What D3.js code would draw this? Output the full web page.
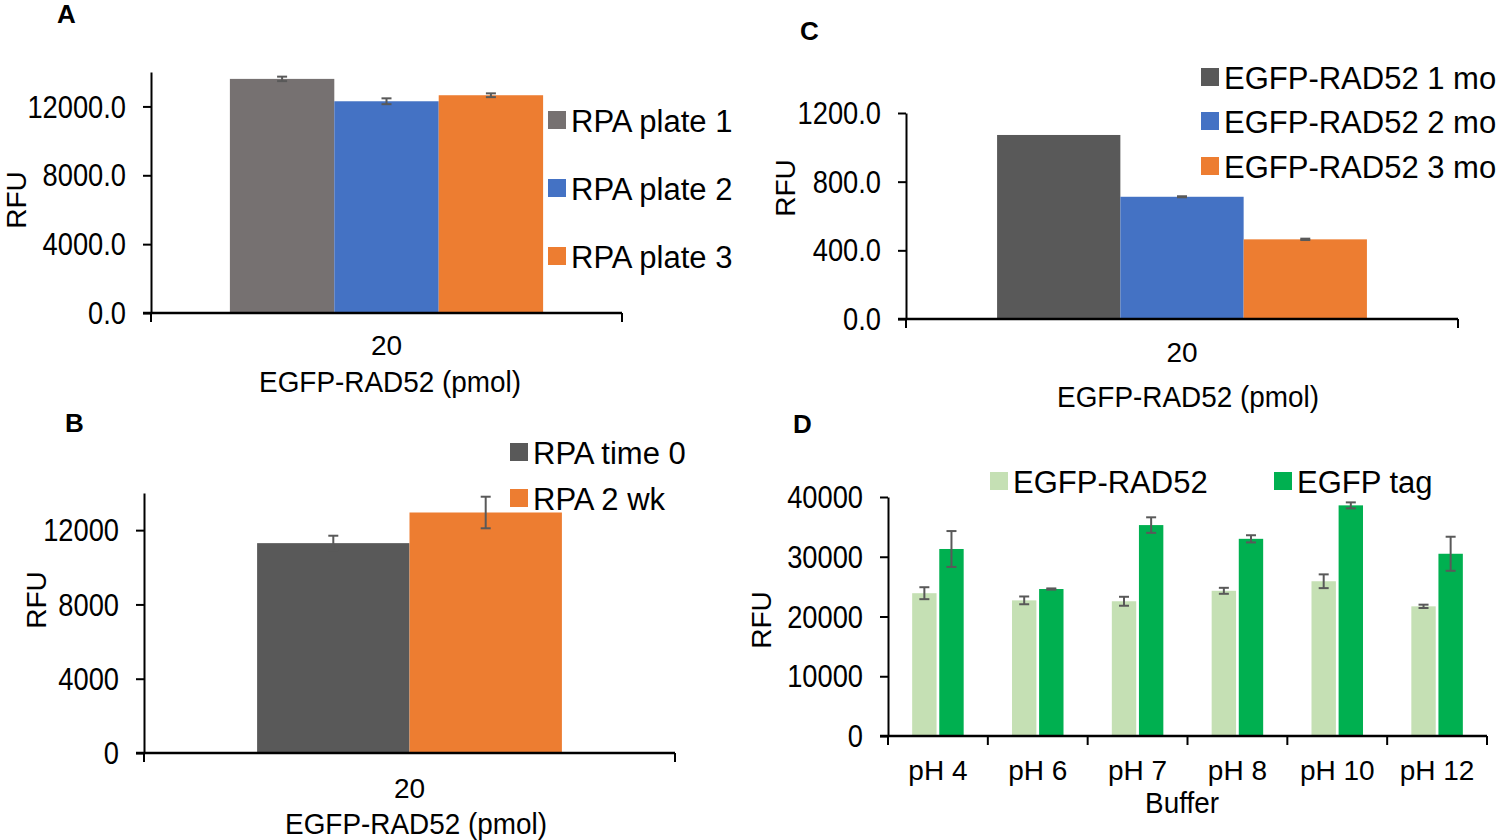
<!DOCTYPE html>
<html>
<head>
<meta charset="utf-8">
<script src="https://cdn.jsdelivr.net/npm/d3@7"></script>
<style>
  body { margin: 0; background: white; }
  svg { display: block; font-family: "Liberation Sans", Arial, sans-serif; }
</style>
</head>
<body>
<div id="chart"></div>
<script>
// Panel A - RPA plates
const panelACategories = ["20"];
const panelASeries = ["RPA plate 1", "RPA plate 2", "RPA plate 3"];
const panelAValues = [13600, 12300, 12650];
const panelAErrors = [130, 170, 110];
const panelATicks = [0, 4000, 8000, 12000];

// Panel B - RPA storage
const panelBCategories = ["20"];
const panelBSeries = ["RPA time 0", "RPA 2 wk"];
const panelBValues = [11300, 12950];
const panelBErrors = [400, 850];
const panelBTicks = [0, 4000, 8000, 12000];

// Panel C - EGFP-RAD52 storage
const panelCCategories = ["20"];
const panelCSeries = ["EGFP-RAD52 1 mo", "EGFP-RAD52 2 mo", "EGFP-RAD52 3 mo"];
const panelCValues = [1072, 712, 464];
const panelCErrors = [0, 3, 4];
const panelCTicks = [0, 400, 800, 1200];

// Panel D - buffer pH
const panelDCategories = ["pH 4", "pH 6", "pH 7", "pH 8", "pH 10", "pH 12"];
const panelDSeries = ["EGFP-RAD52", "EGFP tag"];
const panelDRad52 = [23900, 22700, 22550, 24300, 25900, 21700];
const panelDRad52Err = [1000, 650, 750, 500, 1150, 280];
const panelDTag = [31300, 24600, 35300, 33000, 38600, 30500];
const panelDTagErr = [3000, 100, 1300, 600, 500, 2850];
const panelDTicks = [0, 10000, 20000, 30000, 40000];

const errColor = "#595959";

const svg = d3.select("#chart")
  .append("svg")
  .attr("width", 1500)
  .attr("height", 840)
  .style("background-color", "white");

// text helper, sx squeezes glyphs horizontally
function label(g, x, y, s, o) {
  o = o || {};
  let t = "translate(" + x + "," + y + ")";
  if (o.rotate) t += " rotate(" + o.rotate + ")";
  if (o.sx) t += " scale(" + o.sx + ",1)";
  return g.append("text")
    .attr("transform", t)
    .attr("text-anchor", o.anchor || "start")
    .attr("dominant-baseline", o.baseline || "central")
    .style("font-size", (o.size || 28) + "px")
    .style("font-weight", o.weight || "normal")
    .attr("fill", "#000")
    .text(s);
}

function drawPanel(p) {
  const g = svg.append("g");

  const y = d3.scaleLinear().domain([0, p.yMax]).range([p.yBase, p.yTop]);
  const x = d3.scaleBand()
    .domain(p.cats)
    .range([p.x0, p.x1])
    .paddingInner(p.pad)
    .paddingOuter(p.pad / 2);
  const xs = d3.scaleBand()
    .domain(p.series.map((s) => s.name))
    .range([0, x.bandwidth()])
    .paddingInner(p.innerPad || 0);

  // Bars
  p.series.forEach((s) => {
    g.selectAll(null)
      .data(p.cats.map((c, i) => ({ c: c, v: s.values[i], e: s.errors[i] })))
      .join("rect")
      .attr("x", (d) => x(d.c) + xs(s.name))
      .attr("y", (d) => y(d.v))
      .attr("width", xs.bandwidth())
      .attr("height", (d) => p.yBase - y(d.v))
      .attr("fill", s.color);
  });

  // Error bars
  p.series.forEach((s) => {
    const eb = g.selectAll(null)
      .data(p.cats.map((c, i) => ({ c: c, v: s.values[i], e: s.errors[i] })).filter((d) => d.e > 0))
      .join("g")
      .attr("transform", (d) => "translate(" + (x(d.c) + xs(s.name) + xs.bandwidth() / 2) + ",0)")
      .attr("stroke", errColor)
      .attr("stroke-width", 2);
    eb.append("line")
      .attr("y1", (d) => y(d.v + d.e))
      .attr("y2", (d) => y(d.v - d.e));
    eb.append("line").attr("x1", -5).attr("x2", 5)
      .attr("y1", (d) => y(d.v + d.e)).attr("y2", (d) => y(d.v + d.e));
    eb.append("line").attr("x1", -5).attr("x2", 5)
      .attr("y1", (d) => y(d.v - d.e)).attr("y2", (d) => y(d.v - d.e));
  });

  // Y axis
  const ya = g.append("g")
    .attr("transform", "translate(" + p.x0 + ",0)")
    .call(d3.axisLeft(y).tickValues(p.ticks).tickFormat(d3.format(p.fmt)).tickSize(8).tickSizeOuter(0));
  ya.select(".domain").attr("stroke", "#000").attr("stroke-width", 2);
  ya.selectAll(".tick line").attr("stroke", "#000").attr("stroke-width", 2);
  ya.selectAll(".tick text")
    .attr("x", null).attr("dy", null)
    .attr("dominant-baseline", "central")
    .attr("transform", "translate(-25,0) scale(0.88,1)")
    .attr("fill", "#000")
    .style("font-size", "31px")
    .style("font-family", "Liberation Sans, Arial, sans-serif");

  // X axis line and boundary ticks
  g.append("line")
    .attr("x1", p.x0 - 8).attr("x2", p.x1)
    .attr("y1", p.yBase).attr("y2", p.yBase)
    .attr("stroke", "#000").attr("stroke-width", 2.5);
  const bounds = d3.range(p.cats.length + 1).map((i) => p.x0 + i * x.step());
  g.selectAll(null)
    .data(bounds)
    .join("line")
    .attr("x1", (d) => d).attr("x2", (d) => d)
    .attr("y1", p.yBase).attr("y2", p.yBase + 9)
    .attr("stroke", "#000").attr("stroke-width", 2);

  p.cats.forEach((c) => {
    label(g, x(c) + x.bandwidth() / 2, p.catY, c, { anchor: "middle", size: 28 });
  });

  // Axis titles
  label(g, p.xTitle[0], p.xTitle[1], p.xTitle[2], { anchor: "middle", size: 30, sx: 0.93 });
  label(g, p.rfu[0], p.rfu[1], "RFU", { anchor: "middle", size: 28, rotate: -90 });

  // Panel letter
  label(g, p.letter[0], p.letter[1], p.letter[2], { size: 26, weight: "bold", baseline: "auto" });

  // Legend
  p.series.forEach((s, i) => {
    const pos = p.legend[i];
    g.append("rect")
      .attr("x", pos[0]).attr("y", pos[1] - 9)
      .attr("width", 18).attr("height", 18)
      .attr("fill", s.color);
    label(g, pos[0] + 23, pos[1] + 1, s.name, { size: 31 });
  });
}

drawPanel({
  cats: panelACategories,
  series: panelASeries.map((n, i) => ({
    name: n, color: ["#767171", "#4472C4", "#ED7D31"][i],
    values: [panelAValues[i]], errors: [panelAErrors[i]]
  })),
  yMax: 14000, ticks: panelATicks, fmt: ".1f",
  x0: 151, x1: 622, yBase: 313, yTop: 72, pad: 0.335,
  catY: 345, xTitle: [390, 382, "EGFP-RAD52 (pmol)"], rfu: [16, 200],
  letter: [57, 23, "A"],
  legend: [[548, 120], [548, 188], [548, 256]]
});

drawPanel({
  cats: panelBCategories,
  series: panelBSeries.map((n, i) => ({
    name: n, color: ["#595959", "#ED7D31"][i],
    values: [panelBValues[i]], errors: [panelBErrors[i]]
  })),
  yMax: 14000, ticks: panelBTicks, fmt: "d",
  x0: 144, x1: 675, yBase: 753, yTop: 493, pad: 0.426,
  catY: 788, xTitle: [416, 824, "EGFP-RAD52 (pmol)"], rfu: [36, 600],
  letter: [65, 432, "B"],
  legend: [[510, 452], [510, 498]]
});

drawPanel({
  cats: panelCCategories,
  series: panelCSeries.map((n, i) => ({
    name: n, color: ["#595959", "#4472C4", "#ED7D31"][i],
    values: [panelCValues[i]], errors: [panelCErrors[i]]
  })),
  yMax: 1200, ticks: panelCTicks, fmt: ".1f",
  x0: 906, x1: 1458, yBase: 319, yTop: 113, pad: 0.33,
  catY: 352, xTitle: [1188, 397, "EGFP-RAD52 (pmol)"], rfu: [785, 188],
  letter: [800, 40, "C"],
  legend: [[1201, 77], [1201, 121], [1201, 166]]
});

drawPanel({
  cats: panelDCategories,
  series: [
    { name: panelDSeries[0], color: "#C5E0B4", values: panelDRad52, errors: panelDRad52Err },
    { name: panelDSeries[1], color: "#00B050", values: panelDTag, errors: panelDTagErr }
  ],
  yMax: 40000, ticks: panelDTicks, fmt: "d",
  x0: 888, x1: 1487, yBase: 736, yTop: 497, pad: 0.484, innerPad: 0.1,
  catY: 770, xTitle: [1182, 803, "Buffer"], rfu: [761, 620],
  letter: [793, 433, "D"],
  legend: [[990, 481], [1274, 481]]
});
</script>
</body>
</html>
